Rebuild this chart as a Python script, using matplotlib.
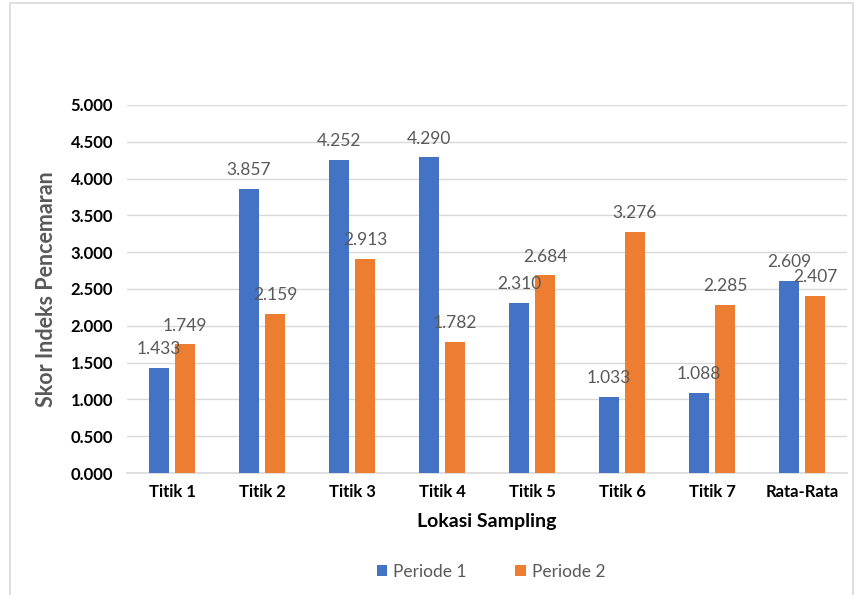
import matplotlib
matplotlib.use("Agg")
import matplotlib.pyplot as plt
import numpy as np

plt.rcParams['font.family'] = ['Lato', 'DejaVu Sans']

# data
lokasi = ["Titik 1", "Titik 2", "Titik 3", "Titik 4", "Titik 5", "Titik 6", "Titik 7", "Rata-Rata"]
periode1 = [1.433, 3.857, 4.252, 4.290, 2.310, 1.033, 1.088, 2.609]
periode2 = [1.749, 2.159, 2.913, 1.782, 2.684, 3.276, 2.285, 2.407]
yticks = [0, 0.5, 1, 1.5, 2, 2.5, 3, 3.5, 4, 4.5, 5]

blue = "#4472C4"
orange = "#ED7D31"
grey = "#595959"

fig = plt.figure(figsize=(8.59, 5.95), dpi=100)
# chart border like excel
fig.patches.append(plt.Rectangle((10/859, -0.01), 843/859, 1 - 3/595 + 0.01,
                                 transform=fig.transFigure, fill=False,
                                 edgecolor="#D9D9D9", linewidth=1.2))

ax = fig.add_axes([127/859, 1 - 473/595, 720/859, 368/595])

x = np.arange(len(lokasi))
w = 0.222
off = 0.144
b1 = ax.bar(x - off, periode1, w, color=blue, label="Periode 1", zorder=3)
b2 = ax.bar(x + off, periode2, w, color=orange, label="Periode 2", zorder=3)

for bars, vals in ((b1, periode1), (b2, periode2)):
    for r, v in zip(bars, vals):
        ax.annotate(f"{v:.3f}", (r.get_x() + r.get_width()/2, v),
                    xytext=(0, 13.5), textcoords="offset points",
                    ha="center", va="center", fontsize=12.5, color=grey)

ax.set_xlim(-0.5, len(lokasi) - 0.5)
ax.set_ylim(0, 5)
ax.set_yticks(yticks)
ax.set_yticklabels([f"{t:.3f}" for t in yticks], fontweight="bold", fontsize=12)
ax.set_xticks(x)
ax.set_xticklabels(lokasi, fontweight="bold", fontsize=12)
ax.tick_params(length=0, pad=10)
ax.tick_params(axis="x", pad=8)

ax.grid(axis="y", color="#D9D9D9", linewidth=1, zorder=0)
for s in ("top", "right", "left"):
    ax.spines[s].set_visible(False)
ax.spines["bottom"].set_color("#D9D9D9")
ax.spines["bottom"].set_linewidth(1.2)

ax.set_ylabel("Skor Indeks Pencemaran", fontsize=15.5, fontweight="bold", color=grey, labelpad=10)
ax.set_xlabel("Lokasi Sampling", fontsize=14, fontweight="bold", labelpad=9)

leg = fig.legend(loc="center", bbox_to_anchor=(491/859, 1 - 572/595), ncol=2,
                 frameon=False, fontsize=12.5, handlelength=0.6, handleheight=0.6,
                 columnspacing=2.8, handletextpad=0.35)
for t in leg.get_texts():
    t.set_color(grey)

fig.savefig("out.png", dpi=100)
